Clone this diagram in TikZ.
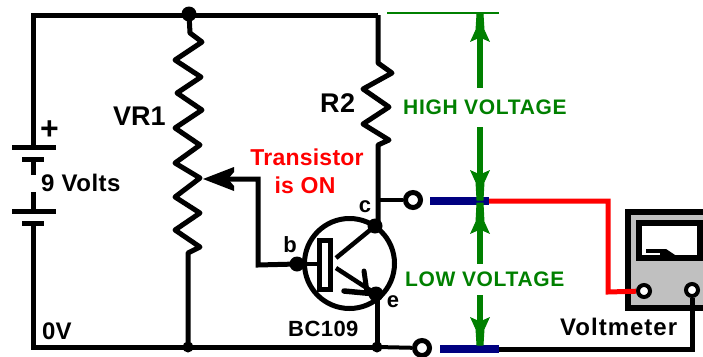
\documentclass[tikz,border=0pt]{standalone}
\usepackage{fontspec}
\setmainfont{Liberation Sans}
\definecolor{grn}{RGB}{0,128,0}
\definecolor{nvy}{RGB}{0,0,128}
\definecolor{mgray}{RGB}{192,192,192}
\newcommand{\fsz}[1]{\fontsize{#1}{#1}\selectfont}
\newcommand{\spc}[1]{\addfontfeature{LetterSpace=#1}}
\tikzset{
  x=1pt,y=-1pt,
  wire/.style={draw=black,line width=5pt,line join=miter},
  thinw/.style={draw=black,line width=4pt},
  dot/.style={circle,fill=black,inner sep=0pt,minimum size=15pt},
  term/.style={circle,draw=black,fill=white,line width=5pt,inner sep=0pt,minimum size=15pt},
  meterterm/.style={circle,draw=black,fill=white,line width=4pt,inner sep=0pt,minimum size=12pt},
  gw/.style={draw=grn,line width=6pt},
  gh/.style={fill=grn,draw=grn,line width=1pt},
  blue bar/.style={draw=nvy,line width=8pt},
  lab/.style={inner sep=0pt,text=black},
  glab/.style={inner sep=0pt,text=grn,font=\fsz{21}\bfseries\spc{3.2}},
  rlab/.style={inner sep=0pt,text=red,font=\fsz{23}\bfseries\spc{1}}
}
\begin{document}
\begin{tikzpicture}
\useasboundingbox[fill=white] (0,0) rectangle (703,356);
% named points
\coordinate (tl) at (33,15);
\coordinate (bl) at (33,347);
\coordinate (tr) at (378,15);
\node[dot] (top) at (189,14) {};
\node[dot,minimum size=11pt] (bot) at (188,347) {};
\node[dot,minimum size=11pt] (bot2) at (377,347) {};
% meter
\fill[mgray] (628,212) rectangle (703,308);
\draw[black,line width=6pt] (703,212) -- (628,212) -- (628,308) -- (703,308);
\fill[white] (639,223) rectangle (700,257);
\draw[black,line width=6pt,miter limit=4] (700,223) -- (639,223) -- (639,257.5) -- (700,257.5) -- cycle;
\draw[black,line width=4pt] (646,251) -- (662,251);
\fill[black] (660,249) -- (666,249) -- (675,255) -- (660,255) -- cycle;
% battery
\coordinate (batA) at (33,147);
\coordinate (batB) at (33,223);
\coordinate (stubA) at (33,175);
\coordinate (stubB) at (33,192);
\coordinate (batC) at (33,159);
\coordinate (batD) at (33,211);
\draw[wire] (batA) -- (tl) -- (tr);
\draw[wire] (batB) -- (bl) -- (bot.center) -- (bot2.center);
\draw[wire] (12,147) -- (56,147);
\draw[wire] (22,159) -- (44,159);
\draw[wire] (batC) -- (stubA);
\draw[wire] (batD) -- (stubB);
\draw[wire] (12,211) -- (56,211);
\draw[wire] (22,223) -- (44,223);
% VR1
\draw[wire,line join=round] (top.center) -- (190,33) -- (202,42) -- (175,60) -- (201,77) -- (177,93) -- (202,110) -- (175,128) -- (200,145) -- (175,163) -- (200,178) -- (175,197) -- (200,213) -- (175,230) -- (200,247) -- (188,253) -- (bot.center);
% R2
\coordinate (cdot) at (378,226);
\draw[wire,line join=round] (tr) -- (378,63) -- (392,73) -- (363,89) -- (389,107) -- (363,124) -- (389,140) -- (378,145) -- (cdot);
% wiper
\node[dot] (bdot) at (297,264) {};
\coordinate (wip) at (203,179);
\coordinate (wipbend) at (258,179);
\coordinate (wipb2) at (258,265);
\draw[wire] (bdot.center) -- (wipb2) -- (wipbend) -- (225,179);
\fill[black] (wip) -- (234,167) -- (234,172) -- (228,179) -- (234,186) -- (234,191) -- cycle;
% transistor
\node[circle,draw=black,line width=5pt,inner sep=0pt,minimum size=90pt] (tr1) at (349.5,263.5) {};
\node[dot] (cd) at (375,226) {};
\node[dot] (ed) at (376,294) {};
\draw[wire,line width=4pt] (bdot.center) -- (322,264);
\node[draw=black,fill=white,line width=5pt,minimum width=11pt,minimum height=49pt,inner sep=0pt] (basebar) at (325,265) {};
\draw[wire,line width=4.5pt] (336,258) -- (cd.center);
\draw[wire,line width=4.5pt] (336,268) -- (ed.center);
\draw[black,line width=5.5pt,line cap=round] (344,291) -- (ed.center);
\draw[black,line width=5pt,line cap=round] (364,271) -- (367,292);
\draw[wire] (377,294) -- (bot2.center);
% outputs
\node[term] (t1) at (413,200) {};
\node[term] (t2) at (422,348) {};
\coordinate (bar1l) at (430,201);
\coordinate (bar1r) at (489,201);
\coordinate (bar2l) at (440,349);
\coordinate (bar2r) at (499,349);
\draw[thinw] (378,200) -- (t1);
\draw[thinw] (bot2.center) -- (t2);
\draw[blue bar] (bar1l) -- (bar1r);
\draw[blue bar] (bar2l) -- (bar2r);
% meter terminals & leads
\node[meterterm] (m1) at (644,291) {};
\node[meterterm] (m2) at (692,290) {};
\draw[draw=red,line width=5pt] (bar1r) -- (608,201) -- (608,292) -- (m1);
\draw[black,line width=5pt] (bar2r) -- (692,349) -- (m2);
% green
\draw[draw=grn,line width=1.5pt] (387,13) -- (499,13);
\coordinate (g1) at (480,88);
\coordinate (g2) at (480,127);
\coordinate (g3) at (480,264);
\coordinate (g4) at (480,295);
\draw[gw] (480,30) -- (g1);
\draw[gw] (g2) -- (480,180);
\draw[gw] (480,222) -- (g3);
\draw[gw] (g4) -- (480,345);
\draw[gh] (477,14) -- (483,14) -- (484,30) -- (489,41) -- (480,37) -- (471,41) -- (476,30) -- cycle;
\draw[gh] (477,200) -- (483,200) -- (484,182) -- (489,171) -- (480,175) -- (471,171) -- (476,182) -- cycle;
\draw[gh] (477,203) -- (483,203) -- (484,222) -- (489,233) -- (480,229) -- (471,233) -- (476,222) -- cycle;
\draw[gh] (477,345) -- (483,345) -- (484,329) -- (489,318) -- (480,322) -- (471,318) -- (476,329) -- cycle;
% labels
\node[lab,anchor=west,font=\fsz{32}\bfseries] (plus) at (40,130) {+};
\node[lab,anchor=west,font=\fsz{24}\bfseries\spc{2}] (volts) at (41,183) {9 Volts};
\node[lab,anchor=west,font=\fsz{27}\bfseries] (vr) at (113,116) {VR1};
\node[lab,anchor=west,font=\fsz{27}\bfseries\spc{2}] (r2) at (320,103) {R2};
\node[lab,anchor=west,font=\fsz{24}\bfseries] (ov) at (42,331) {0V};
\node[rlab] (tn) at (307,157) {Transistor};
\node[rlab] (ison) at (305,185) {is ON};
\node[lab,font=\fsz{22}\bfseries] (lc) at (365,207) {c};
\node[lab,font=\fsz{22}\bfseries] (lb) at (290,245) {b};
\node[lab,font=\fsz{22}\bfseries] (le) at (393,302) {e};
\node[lab,anchor=west,font=\fsz{22}\bfseries\spc{2}] (bc) at (288,329) {BC109};
\node[glab,anchor=west] (hv) at (403,107) {HIGH VOLTAGE};
\node[glab,anchor=west] (lv) at (405,279) {LOW VOLTAGE};
\node[lab,anchor=west,font=\fsz{24}\bfseries\spc{4.2}] (vm) at (560,327) {Voltmeter};
\end{tikzpicture}
\end{document}
